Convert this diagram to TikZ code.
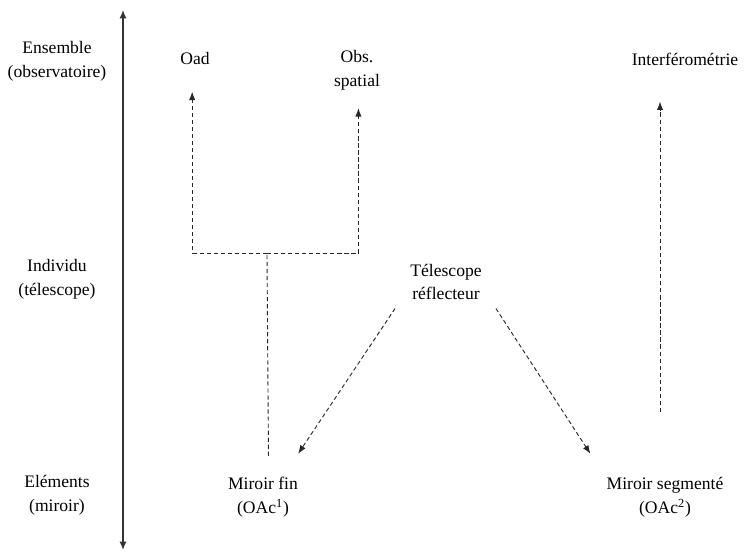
\documentclass[tikz,border=0pt]{standalone}
\usepackage{fontspec}
\setmainfont{Liberation Serif}
\usepackage{tikz}
\usetikzlibrary{arrows.meta,positioning}

\begin{document}
\begin{tikzpicture}[
  x=0.025cm, y=-0.025cm,
  lbl/.style={font=\fontsize{12.5}{17}\selectfont, align=center, inner sep=0pt},
  dashline/.style={black!85, line width=0.65pt, dash pattern=on 3pt off 2pt},
  dasharrow/.style={dashline, -{Latex[length=6pt,width=4.5pt]}},
  axisline/.style={black!80, line width=1pt, {Latex[length=6pt,width=5pt]}-{Latex[length=6pt,width=5pt]}},
]
\useasboundingbox (0,0) rectangle (752,556);
% level axis
\coordinate (axtop) at (123,10);
\coordinate (axbot) at (123,550);
\draw[axisline] (axbot) -- (axtop);
\node[lbl] (lvlens) at (57,61)  {Ensemble\\(observatoire)};
\node[lbl] (lvlind) at (57,279) {Individu\\(télescope)};
\node[lbl] (lvlele) at (57,495) {Eléments\\(miroir)};

\node[lbl] (oad)    at (195,58)  {Oad};
\node[lbl] (obs)    at (357,70)  {Obs.\\spatial};
\node[lbl] (interf) at (685,59)  {Interférométrie};
\node[lbl] (tele)   at (446,282) {Télescope\\réflecteur};
\node[lbl] (mfin)   at (263,497) {Miroir fin\\(OAc\textsuperscript{1})};
\node[lbl] (mseg)   at (665,497) {Miroir segmenté\\(OAc\textsuperscript{2})};

% fork below Oad / Obs. spatial
\coordinate (fork) at (267,253);
\draw[dashline, shorten <=0.52cm] ([xshift=4]mfin.north) -- (fork);
\draw[dasharrow, shorten >=0.68cm] (fork) -| ([xshift=-2]oad.south);
\draw[dasharrow, shorten >=0.45cm] (fork) -| ([xshift=1]obs.south);

\draw[dasharrow] ([shift={(-15,8)}]tele.south west) -- ([shift={(0,-23)}]mfin.north east);
\draw[dasharrow] ([shift={(14,8)}]tele.south east) -- ([shift={(-16,-23)}]mseg.north west);

\coordinate (ibase) at (660,412);
\draw[dasharrow, shorten >=0.9cm] (ibase) -- (ibase |- interf.south);
\end{tikzpicture}
\end{document}
